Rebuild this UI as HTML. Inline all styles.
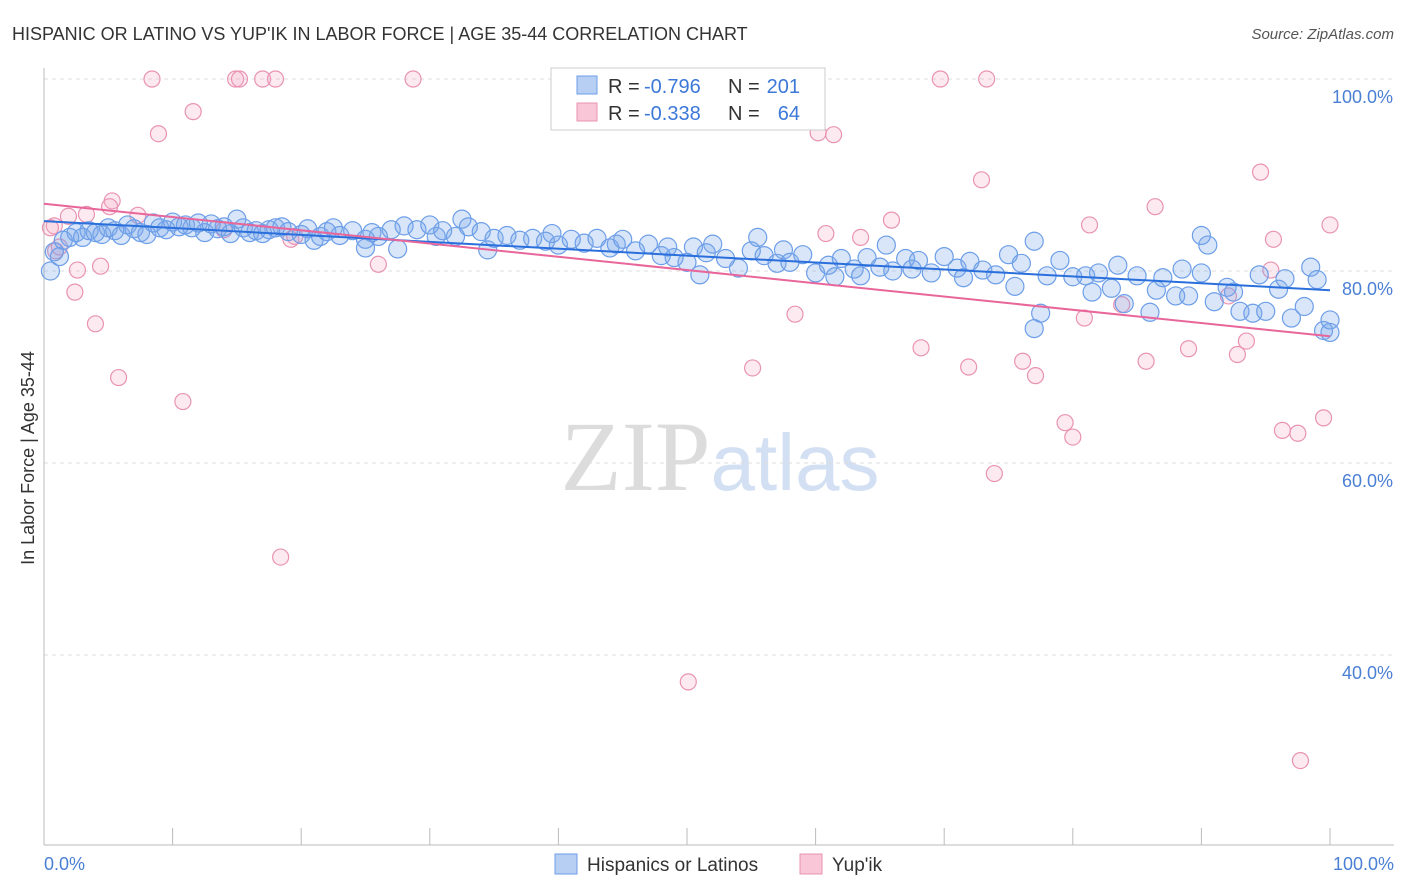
<!DOCTYPE html>
<html><head><meta charset="utf-8"><style>
body{margin:0;background:#fff;font-family:"Liberation Sans",sans-serif;}
svg{display:block}
</style></head><body>
<svg id="chart" width="1406" height="892" viewBox="0 0 1406 892" xmlns="http://www.w3.org/2000/svg">
<text x="12" y="40" font-size="18" fill="#333">HISPANIC OR LATINO VS YUP'IK IN LABOR FORCE | AGE 35-44 CORRELATION CHART</text>
<text x="1394" y="39" font-size="15" fill="#555" text-anchor="end" font-style="italic">Source: ZipAtlas.com</text>
<text x="720" y="490" font-size="100" text-anchor="middle"><tspan fill="#dcdcdc" font-family="Liberation Serif,serif">ZIP</tspan><tspan fill="#d3e0f3" font-size="80">atlas</tspan></text>
<g id="grid"></g>
<g id="axes"></g>
<g id="pink"></g>
<g id="blue"></g>
<g id="trends"></g>
<text transform="translate(34,458) rotate(-90)" font-size="18" fill="#333" text-anchor="middle">In Labor Force | Age 35-44</text>
<g>
<rect x="551" y="68" width="274" height="62" fill="#fff" stroke="#ccc"/>
<rect x="577" y="76" width="20" height="18" fill="#b7cff3" stroke="#6d9ee8"/>
<rect x="577" y="103" width="20" height="18" fill="#f8c6d6" stroke="#e993b3"/>
<text x="608" y="93" font-size="20" fill="#333">R =</text>
<text x="644" y="93" font-size="20" fill="#3c78d8">-0.796</text>
<text x="728" y="93" font-size="20" fill="#333">N =</text>
<text x="800" y="93" font-size="20" fill="#3c78d8" text-anchor="end">201</text>
<text x="608" y="120" font-size="20" fill="#333">R =</text>
<text x="644" y="120" font-size="20" fill="#3c78d8">-0.338</text>
<text x="728" y="120" font-size="20" fill="#333">N =</text>
<text x="800" y="120" font-size="20" fill="#3c78d8" text-anchor="end">64</text>
</g>
<g>
<rect x="555" y="854" width="22" height="20" fill="#b7cff3" stroke="#6d9ee8"/>
<text x="587" y="871" font-size="19" fill="#333">Hispanics or Latinos</text>
<rect x="800" y="854" width="22" height="20" fill="#f8c6d6" stroke="#e993b3"/>
<text x="832" y="871" font-size="19" fill="#333">Yup'ik</text>
</g>
</svg>
<script>
const yTicks=[100,80,60,40];
const yTickLabels=["100.0%","80.0%","60.0%","40.0%"];
const xTicks=[0,10,20,30,40,50,60,70,80,90,100];
const blueX=[0.5,0.8,1.2,1.5,2,2.5,3,3.5,4,4.5,5,5.5,6,6.5,7,7.5,8,8.5,9,9.5,10,10.5,11,11.5,12,12.5,13,13.5,14,14.5,15,15.5,16,16.5,17,17.5,18,18.5,19,20,20.5,21,21.5,22,22.5,23,24,25,25.5,26,27,27.5,28,29,30,30.5,31,32,32.5,33,34,34.5,35,36,37,38,39,39.5,40,41,42,43,44,44.5,45,46,47,48,48.5,49,50,50.5,51,51.5,52,53,54,55,55.5,56,57,57.5,58,59,60,61,61.5,62,63,63.5,64,65,65.5,66,67,67.5,68,69,70,71,71.5,72,73,74,75,75.5,76,77,77.5,78,79,80,81,81.5,82,83,83.5,84,85,86,86.5,87,88,88.5,89,90,90.5,91,92,92.5,93,94,94.5,95,96,96.5,97,98,98.5,99,99.5,100,100,77,25,90];
const blueY=[80.0,82,81.5,83.2,83.5,84,83.5,84.2,84,83.8,84.5,84.2,83.7,84.8,84.4,84,83.8,85,84.5,84.3,85.1,84.6,84.8,84.5,85,84,84.9,84.4,84.6,83.9,85.4,84.5,84,84.2,83.9,84.3,84.5,84.6,84.1,83.8,84.4,83.2,83.6,84.1,84.5,83.7,84.2,83.3,84,83.6,84.3,82.3,84.7,84.3,84.8,83.6,84.2,83.6,85.4,84.6,84.1,82.2,83.4,83.7,83.2,83.4,83.1,83.9,82.7,83.3,82.9,83.4,82.4,82.8,83.3,82.1,82.8,81.6,82.5,81.4,80.9,82.5,79.6,81.9,82.8,81.3,80.3,82.1,83.5,81.6,80.8,82.2,80.9,81.7,79.8,80.6,79.4,81.3,80.2,79.5,81.4,80.4,82.7,80,81.3,80.2,81.1,79.8,81.5,80.3,79.3,81,80.1,79.6,81.7,78.4,80.8,83.1,75.6,79.5,81.1,79.4,79.5,77.8,79.8,78.2,80.6,76.6,79.5,75.7,78,79.3,77.4,80.2,77.4,79.8,82.7,76.8,78.3,77.8,75.8,75.6,79.6,75.8,78.1,79.2,75.1,76.3,80.4,79.1,73.8,74.9,73.6,74,82.4,83.7];
const pinkX=[8.4,8.9,11.6,14.9,15.2,17.0,18.0,28.7,60.0,69.7,73.3,60.2,61.4,72.9,94.6,86.4,81.3,100,65.9,63.5,60.8,5.3,5.1,7.3,1.9,3.3,0.8,0.9,2.4,2.6,4.4,4.0,5.8,10.8,18.4,26.0,19.2,58.4,55.1,68.2,71.9,76.1,77.1,79.4,80.0,73.9,80.9,83.8,85.7,89.0,92.8,93.5,92.1,95.4,95.6,96.3,97.5,99.5,97.7,50.1,0.5,1.2,14,19.5];
const pinkY=[100,94.3,96.6,100,100,100,100,100,100,100,100,94.4,94.2,89.5,90.3,86.7,84.8,84.8,85.3,83.5,83.9,87.3,86.7,85.8,85.7,85.9,84.7,82.1,77.8,80.1,80.5,74.5,68.9,66.4,50.2,80.7,83.3,75.5,69.9,72.0,70.0,70.6,69.1,64.2,62.7,58.9,75.1,76.5,70.6,71.9,71.3,72.7,77.4,80.1,83.3,63.4,63.1,64.7,29.0,37.2,84.5,82.5,84.3,83.6];
const blueTrend=[85.2,78.0];
const pinkTrend=[87.0,73.2];
const NS="http://www.w3.org/2000/svg";
const xs=v=>44+v*12.86;
const ys=v=>79+(100-v)*9.6;
function mk(tag,attrs,parent){const e=document.createElementNS(NS,tag);for(const k in attrs)e.setAttribute(k,attrs[k]);parent.appendChild(e);return e;}
const grid=document.getElementById('grid'),axes=document.getElementById('axes');
yTicks.forEach((t,i)=>{
 const l=mk('line',{x1:44,x2:1394,y1:ys(t),y2:ys(t),stroke:'#ddd','stroke-dasharray':'4,4'},grid);
 
 
 const tx=mk('text',{x:1393,y:ys(t)+24,'font-size':18,fill:'#4a7fd4','text-anchor':'end'},axes);
 tx.textContent=yTickLabels[i];
 
 
});
const xa=mk('line',{x1:44,x2:1394,y1:845,y2:845,stroke:'#bbb'},axes);


const ya=mk('line',{x1:44,x2:44,y1:68,y2:845,stroke:'#bbb'},axes);


xTicks.forEach(t=>{
 const l=mk('line',{x1:xs(t),x2:xs(t),y1:828,y2:845,stroke:'#bbb'},axes);
 
 
});
const x0=mk('text',{x:44,y:870,'font-size':18,fill:'#4a7fd4'},axes);x0.textContent='0.0%';


const x1=mk('text',{x:1394,y:870,'font-size':18,fill:'#4a7fd4','text-anchor':'end'},axes);x1.textContent='100.0%';


const pg=document.getElementById('pink');
pinkX.forEach((x,i)=>{const c=mk('circle',{cx:xs(x),cy:ys(pinkY[i]),r:8,fill:'rgba(244,170,196,0.25)',stroke:'#e993b3','stroke-width':1.2},pg);
 
 });
const bg=document.getElementById('blue');
blueX.forEach((x,i)=>{const c=mk('circle',{cx:xs(x),cy:ys(blueY[i]),r:9,fill:'rgba(120,165,235,0.28)',stroke:'#6d9ee8','stroke-width':1.2},bg);
 
 });
const tg=document.getElementById('trends');
const bt=mk('line',{x1:xs(0),y1:ys(blueTrend[0]),x2:xs(100),y2:ys(blueTrend[1]),stroke:'#2a6fdb','stroke-width':2},tg);


const pt=mk('line',{x1:xs(0),y1:ys(pinkTrend[0]),x2:xs(100),y2:ys(pinkTrend[1]),stroke:'#e8669a','stroke-width':2},tg);


</script>
</body></html>
